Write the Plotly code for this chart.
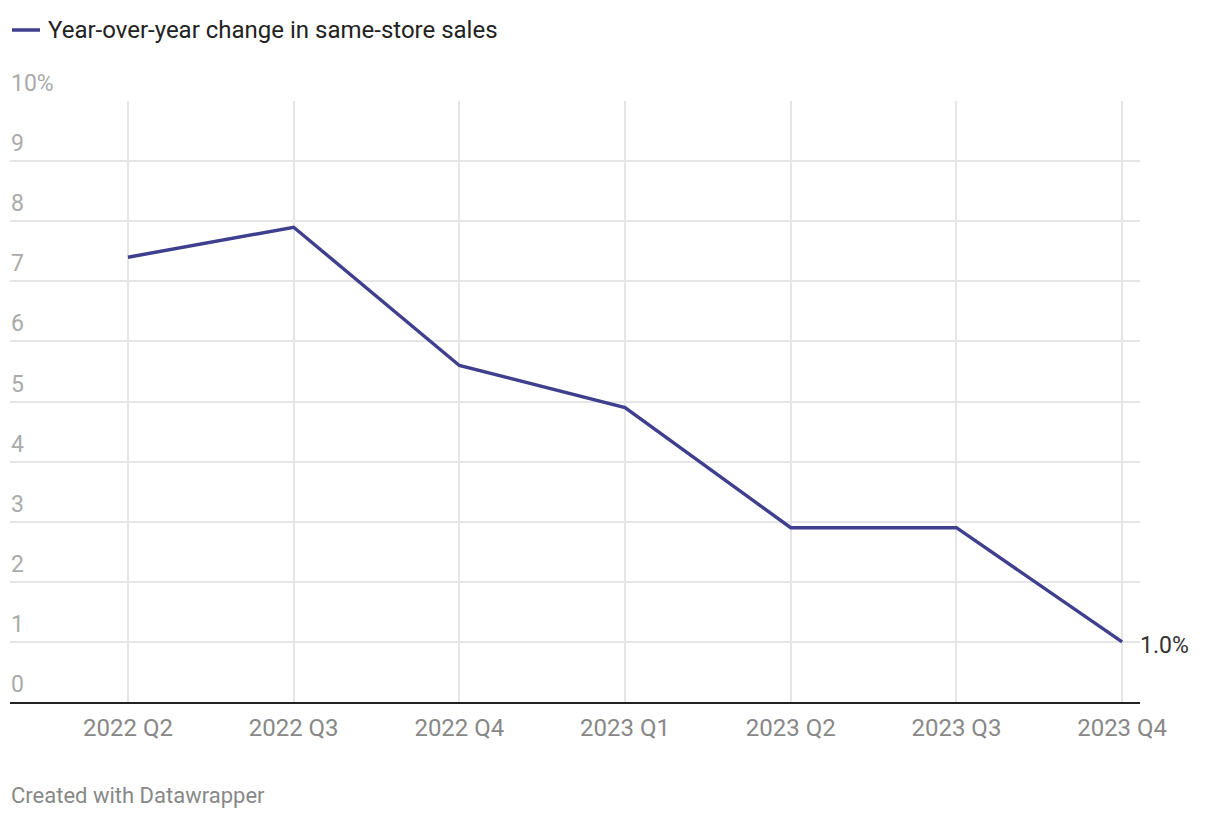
import plotly.graph_objects as go

quarters = ["2022 Q2", "2022 Q3", "2022 Q4", "2023 Q1", "2023 Q2", "2023 Q3", "2023 Q4"]
sales_change = [7.4, 7.9, 5.6, 4.9, 2.9, 2.9, 1.0]
y_ticks = [0, 1, 2, 3, 4, 5, 6, 7, 8, 9, 10]
y_tick_labels = ["0", "1", "2", "3", "4", "5", "6", "7", "8", "9", "10%"]
series_name = "Year-over-year change in same-store sales"

LINE = "#3f3f8f"
FONT = "Roboto, 'Open Sans', sans-serif"

x_idx = list(range(len(quarters)))

fig = go.Figure()
fig.add_trace(go.Scatter(
    x=x_idx, y=sales_change, mode="lines",
    line=dict(color=LINE, width=3.4),
    name=series_name, hoverinfo="skip", showlegend=False,
))


def px_x(px):
    return (px - 10) / 1130


def px_y(py):
    return (702 - py) / 601


# y tick labels placed above gridlines at the left
for v, t in zip(y_ticks, y_tick_labels):
    fig.add_annotation(
        x=0, xref="paper", y=v, yref="y", text=t, showarrow=False,
        xanchor="left", yanchor="bottom", yshift=2, xshift=-1,
        font=dict(family=FONT, size=23, color="#aaaaaa"),
    )

# end label
fig.add_annotation(
    x=x_idx[-1], y=sales_change[-1], xref="x", yref="y",
    text=f"{sales_change[-1]:.1f}%", showarrow=False,
    xanchor="left", yanchor="middle", xshift=16, yshift=-4,
    font=dict(family=FONT, size=23, color="#333333"),
)

# legend
fig.add_shape(type="line", xref="paper", yref="paper",
              x0=px_x(12), x1=px_x(40), y0=px_y(30), y1=px_y(30),
              line=dict(color=LINE, width=3.5))
fig.add_annotation(
    x=px_x(46), y=px_y(30), xref="paper", yref="paper",
    text=series_name, showarrow=False, xanchor="left", yanchor="middle",
    font=dict(family=FONT, size=24, color="#222222"),
)
# footer
fig.add_annotation(
    x=px_x(9), y=px_y(795), xref="paper", yref="paper",
    text="Created with Datawrapper", showarrow=False,
    xanchor="left", yanchor="middle",
    font=dict(family=FONT, size=22, color="#888888"),
)

fig.update_layout(
    width=1220, height=818,
    margin=dict(l=10, r=80, t=101, b=116),
    paper_bgcolor="white", plot_bgcolor="white",
    font=dict(family=FONT, size=24, color="#888888"),
    showlegend=False,
    xaxis=dict(
        range=[-0.712, 6.108], tickvals=x_idx, ticktext=quarters,
        showgrid=True, gridcolor="#e5e5e5", gridwidth=1.5,
        zeroline=False, showline=True, linecolor="#222222", linewidth=2,
        ticks="", ticklabelstandoff=3,
        tickfont=dict(family=FONT, size=24, color="#888888"),
        fixedrange=True,
    ),
    yaxis=dict(
        range=[0, 10], tickvals=y_ticks, showticklabels=False,
        showgrid=True, gridcolor="#e5e5e5", gridwidth=1.5,
        zeroline=False, fixedrange=True,
    ),
)

fig.write_html("out.html")
